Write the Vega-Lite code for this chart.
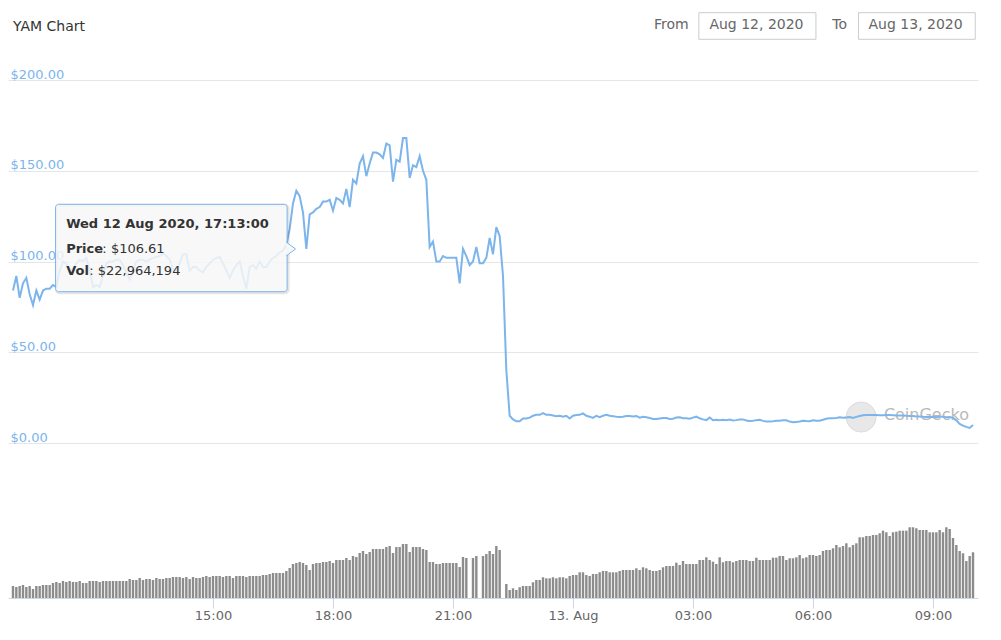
{
"$schema": "https://vega.github.io/schema/vega-lite/v6.json",
"width": 970, "height": 518,
"autosize": {"type": "none"},
"padding": {"left": 8, "top": 80, "right": 23, "bottom": 42},
"background": "#ffffff",
"config": {"font": "DejaVu Sans", "view": {"stroke": null}},
"data": {"values": [
{"time":"2020-08-12T10:00","price":84,"vol":7.87},{"time":"2020-08-12T10:05","price":92,"vol":7.22},{"time":"2020-08-12T10:10","price":80,"vol":7.87},{"time":"2020-08-12T10:15","price":88,"vol":8.53},{"time":"2020-08-12T10:20","price":91,"vol":7.22},{"time":"2020-08-12T10:25","price":82,"vol":7.87},{"time":"2020-08-12T10:30","price":76,"vol":5.90},{"time":"2020-08-12T10:35","price":84,"vol":7.87},{"time":"2020-08-12T10:40","price":79,"vol":7.87},{"time":"2020-08-12T10:45","price":84,"vol":8.53},{"time":"2020-08-12T10:50","price":85,"vol":8.53},{"time":"2020-08-12T10:55","price":85,"vol":8.53},
{"time":"2020-08-12T11:00","price":87,"vol":9.84},{"time":"2020-08-12T11:05","price":86,"vol":10.50},{"time":"2020-08-12T11:10","price":95,"vol":9.84},{"time":"2020-08-12T11:15","price":100,"vol":11.15},{"time":"2020-08-12T11:20","price":99,"vol":10.50},{"time":"2020-08-12T11:25","price":94,"vol":11.15},{"time":"2020-08-12T11:30","price":96,"vol":10.50},{"time":"2020-08-12T11:35","price":99,"vol":10.50},{"time":"2020-08-12T11:40","price":101,"vol":11.15},{"time":"2020-08-12T11:45","price":100,"vol":9.84},{"time":"2020-08-12T11:50","price":102,"vol":9.84},{"time":"2020-08-12T11:55","price":95,"vol":11.15},
{"time":"2020-08-12T12:00","price":86,"vol":11.15},{"time":"2020-08-12T12:05","price":87,"vol":11.15},{"time":"2020-08-12T12:10","price":86,"vol":10.50},{"time":"2020-08-12T12:15","price":92,"vol":11.15},{"time":"2020-08-12T12:20","price":99,"vol":11.15},{"time":"2020-08-12T12:25","price":100,"vol":11.15},{"time":"2020-08-12T12:30","price":100,"vol":11.15},{"time":"2020-08-12T12:35","price":101,"vol":11.15},{"time":"2020-08-12T12:40","price":101,"vol":11.15},{"time":"2020-08-12T12:45","price":98,"vol":11.15},{"time":"2020-08-12T12:50","price":94,"vol":11.15},{"time":"2020-08-12T12:55","price":90,"vol":12.46},
{"time":"2020-08-12T13:00","price":95,"vol":11.81},{"time":"2020-08-12T13:05","price":100,"vol":11.81},{"time":"2020-08-12T13:10","price":101,"vol":13.12},{"time":"2020-08-12T13:15","price":101,"vol":11.81},{"time":"2020-08-12T13:20","price":100,"vol":12.46},{"time":"2020-08-12T13:25","price":101,"vol":12.46},{"time":"2020-08-12T13:30","price":102,"vol":11.81},{"time":"2020-08-12T13:35","price":102.5,"vol":13.12},{"time":"2020-08-12T13:40","price":103,"vol":12.46},{"time":"2020-08-12T13:45","price":104.5,"vol":12.46},{"time":"2020-08-12T13:50","price":103,"vol":13.12},{"time":"2020-08-12T13:55","price":101,"vol":13.12},
{"time":"2020-08-12T14:00","price":96,"vol":13.78},{"time":"2020-08-12T14:05","price":94,"vol":13.78},{"time":"2020-08-12T14:10","price":99,"vol":13.78},{"time":"2020-08-12T14:15","price":104,"vol":13.12},{"time":"2020-08-12T14:20","price":104,"vol":13.78},{"time":"2020-08-12T14:25","price":95,"vol":12.46},{"time":"2020-08-12T14:30","price":97,"vol":13.78},{"time":"2020-08-12T14:35","price":97,"vol":13.12},{"time":"2020-08-12T14:40","price":95,"vol":13.12},{"time":"2020-08-12T14:45","price":94,"vol":13.78},{"time":"2020-08-12T14:50","price":97,"vol":14.43},{"time":"2020-08-12T14:55","price":99,"vol":13.78},
{"time":"2020-08-12T15:00","price":101,"vol":14.43},{"time":"2020-08-12T15:05","price":102,"vol":14.43},{"time":"2020-08-12T15:10","price":102.5,"vol":14.43},{"time":"2020-08-12T15:15","price":99,"vol":13.78},{"time":"2020-08-12T15:20","price":95,"vol":14.43},{"time":"2020-08-12T15:25","price":91,"vol":14.43},{"time":"2020-08-12T15:30","price":95,"vol":13.12},{"time":"2020-08-12T15:35","price":98,"vol":14.43},{"time":"2020-08-12T15:40","price":100,"vol":14.43},{"time":"2020-08-12T15:45","price":92,"vol":14.43},{"time":"2020-08-12T15:50","price":85,"vol":13.78},{"time":"2020-08-12T15:55","price":97,"vol":14.43},
{"time":"2020-08-12T16:00","price":98,"vol":14.43},{"time":"2020-08-12T16:05","price":96,"vol":14.43},{"time":"2020-08-12T16:10","price":100,"vol":14.43},{"time":"2020-08-12T16:15","price":97,"vol":15.09},{"time":"2020-08-12T16:20","price":97,"vol":15.09},{"time":"2020-08-12T16:25","price":100,"vol":15.74},{"time":"2020-08-12T16:30","price":102,"vol":16.40},{"time":"2020-08-12T16:35","price":103,"vol":16.40},{"time":"2020-08-12T16:40","price":105,"vol":16.40},{"time":"2020-08-12T16:45","price":106,"vol":16.40},{"time":"2020-08-12T16:50","price":109,"vol":17.71},{"time":"2020-08-12T16:55","price":118,"vol":19.68},
{"time":"2020-08-12T17:00","price":132,"vol":22.30},{"time":"2020-08-12T17:05","price":139,"vol":22.96},{"time":"2020-08-12T17:10","price":136,"vol":23.62},{"time":"2020-08-12T17:15","price":127,"vol":22.96},{"time":"2020-08-12T17:20","price":107,"vol":21.65},{"time":"2020-08-12T17:25","price":126,"vol":18.37},{"time":"2020-08-12T17:30","price":127,"vol":22.30},{"time":"2020-08-12T17:35","price":129,"vol":22.96},{"time":"2020-08-12T17:40","price":130,"vol":22.96},{"time":"2020-08-12T17:45","price":133,"vol":23.62},{"time":"2020-08-12T17:50","price":133,"vol":23.62},{"time":"2020-08-12T17:55","price":134,"vol":24.27},
{"time":"2020-08-12T18:00","price":128,"vol":22.96},{"time":"2020-08-12T18:05","price":135,"vol":24.93},{"time":"2020-08-12T18:10","price":134,"vol":24.93},{"time":"2020-08-12T18:15","price":132,"vol":24.93},{"time":"2020-08-12T18:20","price":140,"vol":26.24},{"time":"2020-08-12T18:25","price":130,"vol":24.93},{"time":"2020-08-12T18:30","price":145,"vol":27.55},{"time":"2020-08-12T18:35","price":143,"vol":26.90},{"time":"2020-08-12T18:40","price":154,"vol":29.52},{"time":"2020-08-12T18:45","price":158,"vol":30.83},{"time":"2020-08-12T18:50","price":147,"vol":28.86},{"time":"2020-08-12T18:55","price":154,"vol":30.18},
{"time":"2020-08-12T19:00","price":160,"vol":32.14},{"time":"2020-08-12T19:05","price":160,"vol":32.14},{"time":"2020-08-12T19:10","price":159,"vol":32.14},{"time":"2020-08-12T19:15","price":157,"vol":32.14},{"time":"2020-08-12T19:20","price":165,"vol":33.46},{"time":"2020-08-12T19:25","price":164,"vol":34.11},{"time":"2020-08-12T19:30","price":144,"vol":29.52},{"time":"2020-08-12T19:35","price":156,"vol":33.46},{"time":"2020-08-12T19:40","price":155,"vol":33.46},{"time":"2020-08-12T19:45","price":168,"vol":35.42},{"time":"2020-08-12T19:50","price":168,"vol":35.42},{"time":"2020-08-12T19:55","price":146,"vol":30.18},
{"time":"2020-08-12T20:00","price":153,"vol":33.46},{"time":"2020-08-12T20:05","price":152,"vol":33.46},{"time":"2020-08-12T20:10","price":158,"vol":33.46},{"time":"2020-08-12T20:15","price":150,"vol":32.14},{"time":"2020-08-12T20:20","price":145,"vol":31.49},{"time":"2020-08-12T20:25","price":108,"vol":23.62},{"time":"2020-08-12T20:30","price":111,"vol":23.62},{"time":"2020-08-12T20:35","price":100,"vol":22.30},{"time":"2020-08-12T20:40","price":100,"vol":22.30},{"time":"2020-08-12T20:45","price":103,"vol":22.96},{"time":"2020-08-12T20:50","price":102,"vol":22.96},{"time":"2020-08-12T20:55","price":102,"vol":22.96},
{"time":"2020-08-12T21:00","price":102,"vol":22.96},{"time":"2020-08-12T21:05","price":102,"vol":22.96},{"time":"2020-08-12T21:10","price":88,"vol":20.34},{"time":"2020-08-12T21:15","price":107,"vol":26.90},{"time":"2020-08-12T21:20","price":103,"vol":26.24},{"time":"2020-08-12T21:25","price":98,"vol":0},{"time":"2020-08-12T21:30","price":100,"vol":26.24},{"time":"2020-08-12T21:35","price":108,"vol":27.55},{"time":"2020-08-12T21:40","price":99,"vol":0},{"time":"2020-08-12T21:45","price":99,"vol":27.55},{"time":"2020-08-12T21:50","price":102,"vol":28.86},{"time":"2020-08-12T21:55","price":113,"vol":30.83},
{"time":"2020-08-12T22:00","price":104,"vol":28.86},{"time":"2020-08-12T22:05","price":119,"vol":34.11},{"time":"2020-08-12T22:10","price":114,"vol":31.49},{"time":"2020-08-12T22:15","price":92,"vol":0},{"time":"2020-08-12T22:20","price":40,"vol":9.18},{"time":"2020-08-12T22:25","price":15,"vol":5.25},{"time":"2020-08-12T22:30","price":13,"vol":6.36},{"time":"2020-08-12T22:35","price":12,"vol":5.25},{"time":"2020-08-12T22:40","price":12,"vol":7.02},{"time":"2020-08-12T22:45","price":13.5,"vol":7.87},{"time":"2020-08-12T22:50","price":13.5,"vol":7.87},{"time":"2020-08-12T22:55","price":14,"vol":7.87},
{"time":"2020-08-12T23:00","price":15,"vol":10.30},{"time":"2020-08-12T23:05","price":15.5,"vol":11.81},{"time":"2020-08-12T23:10","price":15.5,"vol":11.81},{"time":"2020-08-12T23:15","price":16.5,"vol":13.58},{"time":"2020-08-12T23:20","price":15.5,"vol":12.92},{"time":"2020-08-12T23:25","price":15.5,"vol":12.92},{"time":"2020-08-12T23:30","price":15.2,"vol":13.58},{"time":"2020-08-12T23:35","price":14.8,"vol":12.92},{"time":"2020-08-12T23:40","price":15,"vol":13.58},{"time":"2020-08-12T23:45","price":14.5,"vol":13.58},{"time":"2020-08-12T23:50","price":15,"vol":12.92},{"time":"2020-08-12T23:55","price":13.5,"vol":14.43},
{"time":"2020-08-13T00:00","price":15,"vol":15.09},{"time":"2020-08-13T00:05","price":15.4,"vol":15.09},{"time":"2020-08-13T00:10","price":15.5,"vol":16.86},{"time":"2020-08-13T00:15","price":16.3,"vol":16.86},{"time":"2020-08-13T00:20","price":15,"vol":15.09},{"time":"2020-08-13T00:25","price":14.5,"vol":14.43},{"time":"2020-08-13T00:30","price":13.8,"vol":15.74},{"time":"2020-08-13T00:35","price":15,"vol":15.74},{"time":"2020-08-13T00:40","price":14.2,"vol":16.86},{"time":"2020-08-13T00:45","price":15,"vol":17.71},{"time":"2020-08-13T00:50","price":15.5,"vol":17.71},{"time":"2020-08-13T00:55","price":15,"vol":16.86},
{"time":"2020-08-13T01:00","price":14.8,"vol":16.86},{"time":"2020-08-13T01:05","price":14.5,"vol":16.86},{"time":"2020-08-13T01:10","price":14.3,"vol":17.71},{"time":"2020-08-13T01:15","price":14.5,"vol":18.37},{"time":"2020-08-13T01:20","price":14.9,"vol":18.37},{"time":"2020-08-13T01:25","price":14.9,"vol":18.37},{"time":"2020-08-13T01:30","price":14.6,"vol":18.37},{"time":"2020-08-13T01:35","price":14.9,"vol":19.48},{"time":"2020-08-13T01:40","price":14,"vol":18.37},{"time":"2020-08-13T01:45","price":14.5,"vol":20.14},{"time":"2020-08-13T01:50","price":14.2,"vol":19.48},{"time":"2020-08-13T01:55","price":13.8,"vol":18.37},
{"time":"2020-08-13T02:00","price":13.2,"vol":17.71},{"time":"2020-08-13T02:05","price":13.2,"vol":17.71},{"time":"2020-08-13T02:10","price":13.5,"vol":18.37},{"time":"2020-08-13T02:15","price":13.8,"vol":20.14},{"time":"2020-08-13T02:20","price":13.8,"vol":20.99},{"time":"2020-08-13T02:25","price":13.2,"vol":20.99},{"time":"2020-08-13T02:30","price":13.4,"vol":20.99},{"time":"2020-08-13T02:35","price":14,"vol":23.16},{"time":"2020-08-13T02:40","price":14.2,"vol":21.65},{"time":"2020-08-13T02:45","price":13.6,"vol":24.27},{"time":"2020-08-13T02:50","price":13.6,"vol":22.30},{"time":"2020-08-13T02:55","price":13.4,"vol":22.30},
{"time":"2020-08-13T03:00","price":14,"vol":22.30},{"time":"2020-08-13T03:05","price":14.5,"vol":22.30},{"time":"2020-08-13T03:10","price":13.6,"vol":24.93},{"time":"2020-08-13T03:15","price":13,"vol":24.93},{"time":"2020-08-13T03:20","price":12.6,"vol":26.70},{"time":"2020-08-13T03:25","price":14,"vol":24.93},{"time":"2020-08-13T03:30","price":12.5,"vol":23.81},{"time":"2020-08-13T03:35","price":12.8,"vol":22.30},{"time":"2020-08-13T03:40","price":12.6,"vol":26.70},{"time":"2020-08-13T03:45","price":12.8,"vol":23.42},{"time":"2020-08-13T03:50","price":12.6,"vol":24.27},{"time":"2020-08-13T03:55","price":12.9,"vol":24.27},
{"time":"2020-08-13T04:00","price":12.4,"vol":23.42},{"time":"2020-08-13T04:05","price":12.6,"vol":24.27},{"time":"2020-08-13T04:10","price":12.9,"vol":24.93},{"time":"2020-08-13T04:15","price":13,"vol":24.93},{"time":"2020-08-13T04:20","price":12.4,"vol":24.93},{"time":"2020-08-13T04:25","price":12.1,"vol":24.27},{"time":"2020-08-13T04:30","price":12.3,"vol":24.27},{"time":"2020-08-13T04:35","price":12.6,"vol":26.44},{"time":"2020-08-13T04:40","price":12.8,"vol":24.93},{"time":"2020-08-13T04:45","price":12.2,"vol":24.93},{"time":"2020-08-13T04:50","price":11.8,"vol":24.93},{"time":"2020-08-13T04:55","price":11.9,"vol":24.93},
{"time":"2020-08-13T05:00","price":12,"vol":26.44},{"time":"2020-08-13T05:05","price":12.2,"vol":26.44},{"time":"2020-08-13T05:10","price":12.2,"vol":27.55},{"time":"2020-08-13T05:15","price":12.5,"vol":27.55},{"time":"2020-08-13T05:20","price":12.5,"vol":24.93},{"time":"2020-08-13T05:25","price":11.8,"vol":26.04},{"time":"2020-08-13T05:30","price":11.4,"vol":26.04},{"time":"2020-08-13T05:35","price":11.6,"vol":26.70},{"time":"2020-08-13T05:40","price":11.8,"vol":28.21},{"time":"2020-08-13T05:45","price":12.3,"vol":26.04},{"time":"2020-08-13T05:50","price":12.1,"vol":26.70},{"time":"2020-08-13T05:55","price":12,"vol":28.21},
{"time":"2020-08-13T06:00","price":12.5,"vol":28.21},{"time":"2020-08-13T06:05","price":12.2,"vol":27.55},{"time":"2020-08-13T06:10","price":12.3,"vol":28.21},{"time":"2020-08-13T06:15","price":12.8,"vol":30.83},{"time":"2020-08-13T06:20","price":13.4,"vol":31.49},{"time":"2020-08-13T06:25","price":13.7,"vol":31.49},{"time":"2020-08-13T06:30","price":13.6,"vol":32.60},{"time":"2020-08-13T06:35","price":13.8,"vol":34.77},{"time":"2020-08-13T06:40","price":14.2,"vol":33.26},{"time":"2020-08-13T06:45","price":13.9,"vol":34.11},{"time":"2020-08-13T06:50","price":14.1,"vol":35.88},{"time":"2020-08-13T06:55","price":14.3,"vol":33.26},
{"time":"2020-08-13T07:00","price":13.8,"vol":34.77},{"time":"2020-08-13T07:05","price":14.4,"vol":35.88},{"time":"2020-08-13T07:10","price":14.9,"vol":39.82},{"time":"2020-08-13T07:15","price":15.3,"vol":39.82},{"time":"2020-08-13T07:20","price":15.4,"vol":40.67},{"time":"2020-08-13T07:25","price":15.4,"vol":40.67},{"time":"2020-08-13T07:30","price":15.4,"vol":41.33},{"time":"2020-08-13T07:35","price":15.4,"vol":41.33},{"time":"2020-08-13T07:40","price":15.3,"vol":42.44},{"time":"2020-08-13T07:45","price":15.3,"vol":44.15},{"time":"2020-08-13T07:50","price":15.4,"vol":43.10},{"time":"2020-08-13T07:55","price":15.4,"vol":40.67},
{"time":"2020-08-13T08:00","price":15.3,"vol":43.10},{"time":"2020-08-13T08:05","price":15.2,"vol":43.49},{"time":"2020-08-13T08:10","price":15.1,"vol":44.15},{"time":"2020-08-13T08:15","price":15.2,"vol":44.15},{"time":"2020-08-13T08:20","price":15,"vol":44.15},{"time":"2020-08-13T08:25","price":14.9,"vol":46.38},{"time":"2020-08-13T08:30","price":14.9,"vol":46.38},{"time":"2020-08-13T08:35","price":14.6,"vol":45.72},{"time":"2020-08-13T08:40","price":14.6,"vol":44.61},{"time":"2020-08-13T08:45","price":14.4,"vol":44.61},{"time":"2020-08-13T08:50","price":14.3,"vol":44.61},{"time":"2020-08-13T08:55","price":14.3,"vol":43.10},
{"time":"2020-08-13T09:00","price":14.4,"vol":43.10},{"time":"2020-08-13T09:05","price":14.2,"vol":43.10},{"time":"2020-08-13T09:10","price":14.4,"vol":44.61},{"time":"2020-08-13T09:15","price":14.4,"vol":43.10},{"time":"2020-08-13T09:20","price":14.2,"vol":46.38},{"time":"2020-08-13T09:25","price":14.3,"vol":45.26},{"time":"2020-08-13T09:30","price":13.8,"vol":39.36},{"time":"2020-08-13T09:35","price":12.5,"vol":34.77},{"time":"2020-08-13T09:40","price":10.5,"vol":30.83},{"time":"2020-08-13T09:45","price":9.6,"vol":29.32},{"time":"2020-08-13T09:50","price":8.9,"vol":24.27},{"time":"2020-08-13T09:55","price":8.3,"vol":27.55},
{"time":"2020-08-13T10:00","price":9.9,"vol":29.98}
]},
"layer": [
{
"layer": [
{"data": {"values": [{}]},
 "mark": {"type": "point", "shape": "circle", "filled": true, "size": 900, "color": "#e4e4e4", "opacity": 0.85, "stroke": "#d6d6d6", "strokeWidth": 1},
 "encoding": {
  "x": {"datum": {"year": 2020, "month": 8, "date": 13, "hours": 7, "minutes": 12, "seconds": 14}, "type": "temporal", "title": null},
  "y": {"datum": 14.3, "type": "quantitative", "title": null}}},
{"data": {"values": [{}]},
 "mark": {"type": "text", "text": "CoinGecko", "align": "left", "baseline": "middle", "fontSize": 16, "color": "#b9b9b9"},
 "encoding": {
  "x": {"datum": {"year": 2020, "month": 8, "date": 13, "hours": 7, "minutes": 46, "seconds": 22}, "type": "temporal", "title": null},
  "y": {"datum": 15.4, "type": "quantitative", "title": null}}},
{"mark": {"type": "line", "color": "#7cb5ec", "strokeWidth": 2},
 "encoding": {
  "x": {"field": "time", "type": "temporal",
   "scale": {"domain": [{"year": 2020, "month": 8, "date": 12, "hours": 10}, {"year": 2020, "month": 8, "date": 13, "hours": 10}], "nice": false},
   "axis": {"values": [{"year": 2020, "month": 8, "date": 12, "hours": 15}, {"year": 2020, "month": 8, "date": 12, "hours": 18}, {"year": 2020, "month": 8, "date": 12, "hours": 21}, {"year": 2020, "month": 8, "date": 13, "hours": 0}, {"year": 2020, "month": 8, "date": 13, "hours": 3}, {"year": 2020, "month": 8, "date": 13, "hours": 6}, {"year": 2020, "month": 8, "date": 13, "hours": 9}],
    "labelExpr": "hours(datum.value) === 0 ? timeFormat(datum.value, '%d. %b') : timeFormat(datum.value, '%H:%M')",
    "title": null, "grid": false, "domainColor": "#ccd6eb", "tickColor": "#ccd6eb", "tickSize": 10,
    "labelColor": "#666666", "labelFontSize": 13, "labelPadding": 1, "labelOverlap": false, "labelFlush": false}},
  "y": {"field": "price", "type": "quantitative",
   "scale": {"domain": [0, 200], "range": [363, 0], "nice": false, "zero": false},
   "axis": {"orient": "left", "values": [0, 50, 100, 150, 200], "labelExpr": "'$' + format(datum.value, ',.2f')",
    "title": null, "grid": true, "gridColor": "#e6e6e6", "gridWidth": 1, "domain": false, "ticks": false, "tickSize": 0,
    "labelAlign": "left", "labelBaseline": "alphabetic", "labelPadding": -2, "labelOffset": -2,
    "labelColor": "#7cb5ec", "labelFontSize": 13, "labelFlush": false, "labelOverlap": false, "labelBound": false}}}},
{"data": {"values": [{}]},
 "mark": {"type": "rect", "fill": null, "stroke": "#000000", "strokeOpacity": 0.1, "strokeWidth": 3, "cornerRadius": 3},
 "encoding": {
  "x": {"datum": {"year": 2020, "month": 8, "date": 12, "hours": 11, "minutes": 5, "seconds": 19}, "type": "temporal", "title": null},
  "x2": {"datum": {"year": 2020, "month": 8, "date": 12, "hours": 16, "minutes": 52, "seconds": 41}},
  "y": {"datum": 130.95, "type": "quantitative", "title": null},
  "y2": {"datum": 82.8}}},
{"data": {"values": [{}]},
 "mark": {"type": "rect", "fill": "#f7f7f7", "fillOpacity": 0.85, "stroke": "#7cb5ec", "strokeWidth": 1, "cornerRadius": 3},
 "encoding": {
  "x": {"datum": {"year": 2020, "month": 8, "date": 12, "hours": 11, "minutes": 3, "seconds": 50}, "type": "temporal", "title": null},
  "x2": {"datum": {"year": 2020, "month": 8, "date": 12, "hours": 16, "minutes": 51, "seconds": 12}},
  "y": {"datum": 131.5, "type": "quantitative", "title": null},
  "y2": {"datum": 83.36}}},
{"data": {"values": [{}]},
 "mark": {"type": "point", "shape": "M -0.15,-1 L 1.2,0 L -0.15,1", "size": 196, "filled": true, "fill": "#f7f7f7", "fillOpacity": 1, "opacity": 1, "stroke": "#7cb5ec", "strokeWidth": 1},
 "encoding": {
  "x": {"datum": {"year": 2020, "month": 8, "date": 12, "hours": 16, "minutes": 51, "seconds": 12}, "type": "temporal", "title": null},
  "y": {"datum": 106.9, "type": "quantitative", "title": null}}},
{"data": {"values": [{}]},
 "mark": {"type": "text", "text": "Wed 12 Aug 2020, 17:13:00", "align": "left", "baseline": "middle", "fontSize": 13, "fontWeight": "bold", "color": "#333333"},
 "encoding": {
  "x": {"datum": {"year": 2020, "month": 8, "date": 12, "hours": 11, "minutes": 19, "seconds": 43}, "type": "temporal", "title": null},
  "y": {"datum": 120.39, "type": "quantitative", "title": null}}},
{"data": {"values": [{}]},
 "mark": {"type": "text", "text": "Price", "align": "left", "baseline": "middle", "fontSize": 13, "fontWeight": "bold", "color": "#333333"},
 "encoding": {
  "x": {"datum": {"year": 2020, "month": 8, "date": 12, "hours": 11, "minutes": 19, "seconds": 43}, "type": "temporal", "title": null},
  "y": {"datum": 107.16, "type": "quantitative", "title": null}}},
{"data": {"values": [{}]},
 "mark": {"type": "text", "text": ": $106.61", "align": "left", "baseline": "middle", "fontSize": 13, "color": "#333333"},
 "encoding": {
  "x": {"datum": {"year": 2020, "month": 8, "date": 12, "hours": 12, "minutes": 14, "seconds": 3}, "type": "temporal", "title": null},
  "y": {"datum": 107.16, "type": "quantitative", "title": null}}},
{"data": {"values": [{}]},
 "mark": {"type": "text", "text": "Vol", "align": "left", "baseline": "middle", "fontSize": 13, "fontWeight": "bold", "color": "#333333"},
 "encoding": {
  "x": {"datum": {"year": 2020, "month": 8, "date": 12, "hours": 11, "minutes": 19, "seconds": 43}, "type": "temporal", "title": null},
  "y": {"datum": 94.88, "type": "quantitative", "title": null}}},
{"data": {"values": [{}]},
 "mark": {"type": "text", "text": ": $22,964,194", "align": "left", "baseline": "middle", "fontSize": 13, "color": "#333333"},
 "encoding": {
  "x": {"datum": {"year": 2020, "month": 8, "date": 12, "hours": 11, "minutes": 54, "seconds": 18}, "type": "temporal", "title": null},
  "y": {"datum": 94.88, "type": "quantitative", "title": null}}},
{"data": {"values": [{}]},
 "mark": {"type": "text", "text": "YAM Chart", "align": "left", "baseline": "middle", "fontSize": 14, "color": "#333333"},
 "encoding": {
  "x": {"datum": {"year": 2020, "month": 8, "date": 12, "hours": 10, "minutes": 0, "seconds": 0}, "type": "temporal", "title": null},
  "y": {"datum": 229.2, "type": "quantitative", "title": null}}},
{"data": {"values": [{}]},
 "mark": {"type": "text", "text": "From", "align": "right", "baseline": "middle", "fontSize": 14, "color": "#666666"},
 "encoding": {
  "x": {"datum": {"year": 2020, "month": 8, "date": 13, "hours": 2, "minutes": 53, "seconds": 28}, "type": "temporal", "title": null},
  "y": {"datum": 230.1, "type": "quantitative", "title": null}}},
{"data": {"values": [{}]},
 "mark": {"type": "text", "text": "To", "align": "right", "baseline": "middle", "fontSize": 14, "color": "#666666"},
 "encoding": {
  "x": {"datum": {"year": 2020, "month": 8, "date": 13, "hours": 6, "minutes": 51, "seconds": 0}, "type": "temporal", "title": null},
  "y": {"datum": 230.1, "type": "quantitative", "title": null}}},
{"data": {"values": [{}]},
 "mark": {"type": "rect", "fill": "#ffffff", "stroke": "#cccccc", "strokeWidth": 1},
 "encoding": {
  "x": {"datum": {"year": 2020, "month": 8, "date": 13, "hours": 3, "minutes": 8, "seconds": 46}, "type": "temporal", "title": null},
  "x2": {"datum": {"year": 2020, "month": 8, "date": 13, "hours": 6, "minutes": 4, "seconds": 23}},
  "y": {"datum": 237.08, "type": "quantitative", "title": null},
  "y2": {"datum": 222.42}}},
{"data": {"values": [{}]},
 "mark": {"type": "rect", "fill": "#ffffff", "stroke": "#cccccc", "strokeWidth": 1},
 "encoding": {
  "x": {"datum": {"year": 2020, "month": 8, "date": 13, "hours": 7, "minutes": 8, "seconds": 13}, "type": "temporal", "title": null},
  "x2": {"datum": {"year": 2020, "month": 8, "date": 13, "hours": 10, "minutes": 3, "seconds": 22}},
  "y": {"datum": 237.08, "type": "quantitative", "title": null},
  "y2": {"datum": 222.42}}},
{"data": {"values": [{}]},
 "mark": {"type": "text", "text": "Aug 12, 2020", "align": "center", "baseline": "middle", "fontSize": 14, "color": "#666666"},
 "encoding": {
  "x": {"datum": {"year": 2020, "month": 8, "date": 13, "hours": 4, "minutes": 35, "seconds": 10}, "type": "temporal", "title": null},
  "y": {"datum": 230.03, "type": "quantitative", "title": null}}},
{"data": {"values": [{}]},
 "mark": {"type": "text", "text": "Aug 13, 2020", "align": "center", "baseline": "middle", "fontSize": 14, "color": "#666666"},
 "encoding": {
  "x": {"datum": {"year": 2020, "month": 8, "date": 13, "hours": 8, "minutes": 33, "seconds": 54}, "type": "temporal", "title": null},
  "y": {"datum": 230.03, "type": "quantitative", "title": null}}}
]
},
{"mark": {"type": "bar", "color": "#8c8c8c", "size": 2.4},
 "encoding": {
  "x": {"field": "time", "type": "temporal"},
  "y": {"field": "vol", "type": "quantitative", "scale": {"domain": [0, 60], "range": [518, 426.5], "nice": false, "zero": true}, "axis": null}}}
],
"resolve": {"scale": {"y": "independent"}}
}
